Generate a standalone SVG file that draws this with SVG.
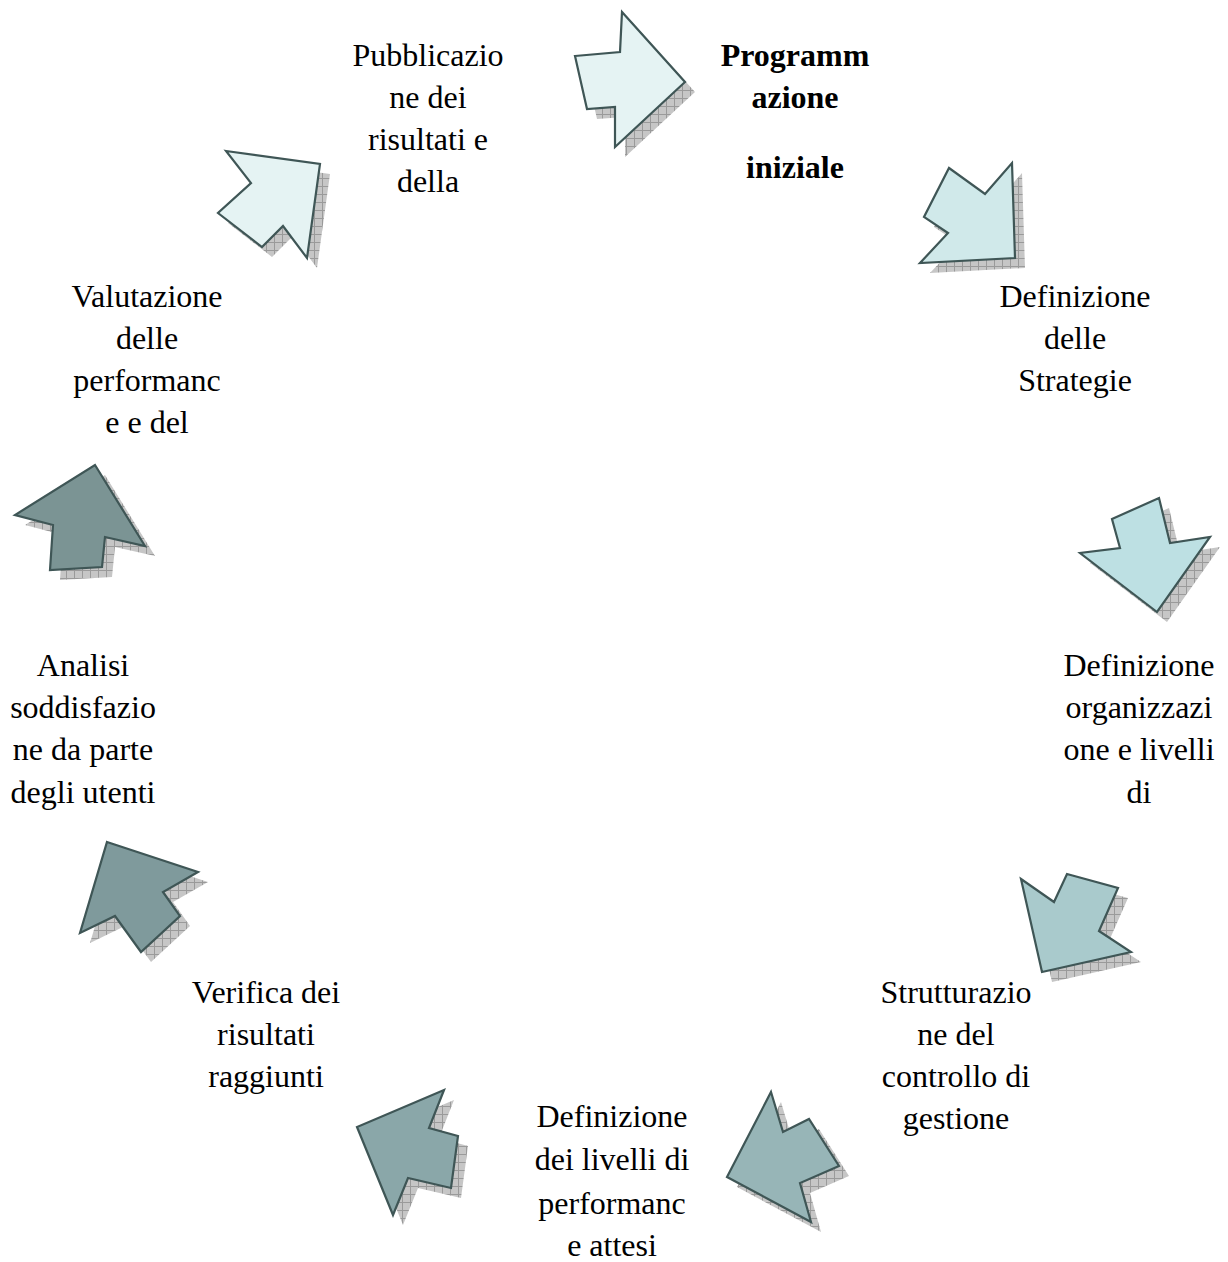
<svg xmlns="http://www.w3.org/2000/svg" width="1228" height="1262" viewBox="0 0 1228 1262">
<defs>
<pattern id="hatch" width="8" height="8" patternUnits="userSpaceOnUse">
<rect width="8" height="8" fill="#c6c6c6"/>
<path d="M0 0.5H8M0.5 0V8" stroke="#9a9a9a" stroke-width="1"/>
</pattern>
<style>
.sh{fill:url(#hatch);stroke:none}
.ar{stroke:#3f5656;stroke-width:2.2;stroke-linejoin:miter}
text{font-family:"Liberation Serif","Times New Roman",serif;font-size:32px;fill:#000;text-anchor:middle}
.b{font-weight:bold}
</style>
</defs>
<rect width="1228" height="1262" fill="#fff"/>
<g id="connectors">
<g id="arrow1"><polygon class="sh" transform="translate(10,10)" points="575,56 620,52 622,12 685,82 615,147 615,107 587,109"/><polygon class="ar" fill="#e5f3f3" points="575,56 620,52 622,12 685,82 615,147 615,107 587,109"/></g>
<g id="arrow2"><polygon class="sh" transform="translate(10,10)" points="949,168 985,194 1012,163 1015,258 920,263 948,233 924,217"/><polygon class="ar" fill="#d0e9ea" points="949,168 985,194 1012,163 1015,258 920,263 948,233 924,217"/></g>
<g id="arrow3"><polygon class="sh" transform="translate(10,10)" points="1112,519 1159,498 1170,543 1210,537 1157,612 1080,553 1120,548"/><polygon class="ar" fill="#bde0e3" points="1112,519 1159,498 1170,543 1210,537 1157,612 1080,553 1120,548"/></g>
<g id="arrow4"><polygon class="sh" transform="translate(10,10)" points="1021,879 1054,902 1067,874 1118,888 1099,931 1131,952 1042,972"/><polygon class="ar" fill="#a9cacc" points="1021,879 1054,902 1067,874 1118,888 1099,931 1131,952 1042,972"/></g>
<g id="arrow5"><polygon class="sh" transform="translate(10,10)" points="771,1092 783,1132 809,1119 839,1166 800,1183 811,1222 727,1177"/><polygon class="ar" fill="#97b5b7" points="771,1092 783,1132 809,1119 839,1166 800,1183 811,1222 727,1177"/></g>
<g id="arrow6"><polygon class="sh" transform="translate(10,10)" points="444,1090 429,1128 458,1136 451,1188 408,1178 393,1215 357,1127"/><polygon class="ar" fill="#8aa7a9" points="444,1090 429,1128 458,1136 451,1188 408,1178 393,1215 357,1127"/></g>
<g id="arrow7"><polygon class="sh" transform="translate(10,10)" points="107,842 198,872 163,892 180,916 141,952 115,916 80,933"/><polygon class="ar" fill="#7f9a9c" points="107,842 198,872 163,892 180,916 141,952 115,916 80,933"/></g>
<g id="arrow8"><polygon class="sh" transform="translate(10,10)" points="95,465 145,546 105,537 102,567 50,570 53,525 15,515"/><polygon class="ar" fill="#7b9494" points="95,465 145,546 105,537 102,567 50,570 53,525 15,515"/></g>
<g id="arrow9"><polygon class="sh" transform="translate(10,10)" points="226,151 320,164 307,258 283,226 262,247 218,213 251,183"/><polygon class="ar" fill="#e5f3f3" points="226,151 320,164 307,258 283,226 262,247 218,213 251,183"/></g>
</g>
<g id="node-pubblicazione"><text x="428" y="66">Pubblicazio</text><text x="428" y="108">ne dei</text><text x="428" y="150">risultati e</text><text x="428" y="192">della</text></g>
<g id="node-programmazione"><text class="b" x="795" y="66">Programm</text><text class="b" x="795" y="108">azione</text><text class="b" x="795" y="178">iniziale</text></g>
<g id="node-strategie"><text x="1075" y="307">Definizione</text><text x="1075" y="349">delle</text><text x="1075" y="391">Strategie</text></g>
<g id="node-organizzazione"><text x="1139" y="676">Definizione</text><text x="1139" y="718">organizzazi</text><text x="1139" y="760">one e livelli</text><text x="1139" y="803">di</text></g>
<g id="node-controllo"><text x="956" y="1003">Strutturazio</text><text x="956" y="1045">ne del</text><text x="956" y="1087">controllo di</text><text x="956" y="1129">gestione</text></g>
<g id="node-livelli"><text x="612" y="1127">Definizione</text><text x="612" y="1170">dei livelli di</text><text x="612" y="1214">performanc</text><text x="612" y="1256">e attesi</text></g>
<g id="node-verifica"><text x="266" y="1003">Verifica dei</text><text x="266" y="1045">risultati</text><text x="266" y="1087">raggiunti</text></g>
<g id="node-analisi"><text x="83" y="676">Analisi</text><text x="83" y="718">soddisfazio</text><text x="83" y="760">ne da parte</text><text x="83" y="803">degli utenti</text></g>
<g id="node-valutazione"><text x="147" y="307">Valutazione</text><text x="147" y="349">delle</text><text x="147" y="391">performanc</text><text x="147" y="433">e e del</text></g>
</svg>
